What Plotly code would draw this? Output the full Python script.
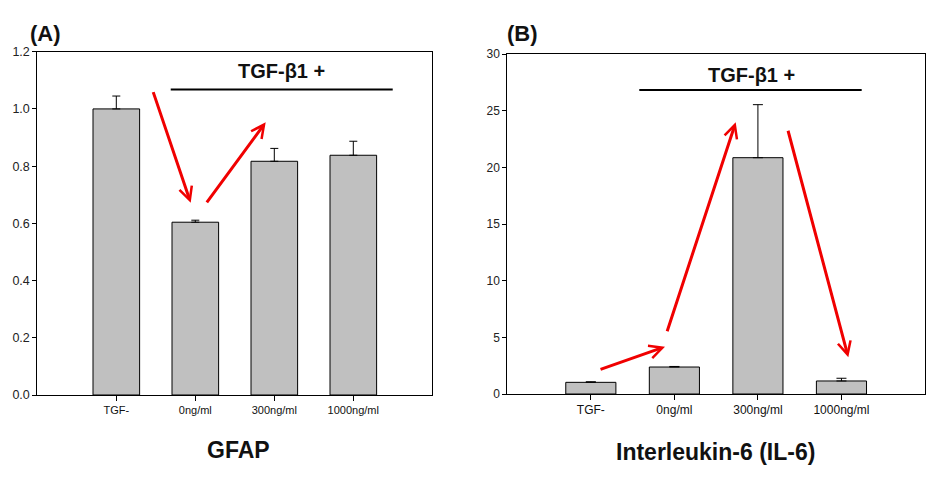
import plotly.graph_objects as go

categories = ["TGF-", "0ng/ml", "300ng/ml", "1000ng/ml"]
gfap_values = [1.0, 0.604, 0.817, 0.838]
gfap_errors = [0.045, 0.007, 0.045, 0.049]
il6_values = [1.03, 2.38, 20.85, 1.15]
il6_errors = [0.05, 0.05, 4.68, 0.24]
gfap_ticks = [0.0, 0.2, 0.4, 0.6, 0.8, 1.0, 1.2]
il6_ticks = [0, 5, 10, 15, 20, 25, 30]

xpos = list(range(len(categories)))
FONT = "Liberation Sans, Arial, sans-serif"
RED = "#f00000"
BAR_FILL = "#c0c0c0"

fig = go.Figure()
fig.add_trace(go.Bar(
    x=xpos, y=gfap_values, width=0.59,
    marker=dict(color=BAR_FILL, line=dict(color="black", width=1)),
    error_y=dict(type="data", symmetric=False, array=gfap_errors,
                 arrayminus=[0] * len(gfap_errors), color="black",
                 thickness=1, width=4),
    xaxis="x", yaxis="y", showlegend=False, hoverinfo="skip"))
fig.add_trace(go.Bar(
    x=xpos, y=il6_values, width=0.6,
    marker=dict(color=BAR_FILL, line=dict(color="black", width=1)),
    error_y=dict(type="data", symmetric=False, array=il6_errors,
                 arrayminus=[0] * len(il6_errors), color="black",
                 thickness=1, width=5),
    xaxis="x2", yaxis="y2", showlegend=False, hoverinfo="skip"))

axis_common = dict(showline=True, linecolor="black", linewidth=1, mirror=True,
                   ticks="outside", tickcolor="black", showgrid=False,
                   zeroline=False, automargin=False)

fig.update_layout(
    template="none",
    width=931, height=480,
    margin=dict(l=0, r=0, t=0, b=0, pad=0, autoexpand=False),
    paper_bgcolor="white", plot_bgcolor="white",
    font=dict(family=FONT, color="#111"),
    xaxis=dict(domain=[37.3 / 931, 432.3 / 931], range=[-1, 4], anchor="y",
               tickvals=xpos, ticktext=categories, ticklen=5,
               tickfont=dict(size=11, family=FONT, color="#111"),
               **axis_common),
    yaxis=dict(domain=[1 - 395 / 480, 1 - 51.7 / 480], range=[0, 1.2], anchor="x",
               tickvals=gfap_ticks, tickformat=".1f", ticklen=4,
               tickfont=dict(size=12.5, family=FONT, color="#222"),
               **axis_common),
    xaxis2=dict(domain=[507.3 / 931, 925 / 931], range=[-1, 4], anchor="y2",
                tickvals=xpos, ticktext=categories, ticklen=5,
                tickfont=dict(size=12, family=FONT, color="#111"),
                **axis_common),
    yaxis2=dict(domain=[1 - 394 / 480, 1 - 54 / 480], range=[0, 30], anchor="x2",
                tickvals=il6_ticks, ticklen=4,
                tickfont=dict(size=12, family=FONT, color="#222"),
                **axis_common),
)

# TGF-beta1 + bars
fig.add_shape(type="line", xref="x", yref="y", x0=0.689, x1=3.499, y0=1.0675, y1=1.0675,
              line=dict(color="black", width=2))
fig.add_shape(type="line", xref="x2", yref="y2", x0=0.580, x1=3.242, y0=26.82, y1=26.82,
              line=dict(color="black", width=2))

ann = []
ann.append(dict(xref="x", yref="y", x=2.097, y=1.133, text="<b>TGF-β1 +</b>",
                showarrow=False, font=dict(size=20, family=FONT, color="#111")))
ann.append(dict(xref="x2", yref="y2", x=1.929, y=28.15, text="<b>TGF-β1 +</b>",
                showarrow=False, font=dict(size=20, family=FONT, color="#111")))

# panel labels and titles
ann.append(dict(xref="paper", yref="paper", x=45 / 931, y=1 - 34 / 480, text="<b>(A)</b>",
                showarrow=False, font=dict(size=22, family=FONT, color="#111")))
ann.append(dict(xref="paper", yref="paper", x=522 / 931, y=1 - 34 / 480, text="<b>(B)</b>",
                showarrow=False, font=dict(size=22, family=FONT, color="#111")))
ann.append(dict(xref="paper", yref="paper", x=238 / 931, y=1 - 450 / 480, text="<b>GFAP</b>",
                showarrow=False, font=dict(size=23, family=FONT, color="#111")))
ann.append(dict(xref="paper", yref="paper", x=715 / 931, y=1 - 451.7 / 480,
                text="<b>Interleukin-6 (IL-6)</b>",
                showarrow=False, font=dict(size=23, family=FONT, color="#111")))
for a in ann:
    a["xanchor"] = "center"
    a["yanchor"] = "middle"

# red arrows (tail -> head)
arrows_a = [((0.461, 1.064), (0.942, 0.672)), ((1.132, 0.668), (1.891, 0.953))]
arrows_b = [((0.098, 2.12), (0.888, 4.17)), ((0.908, 5.41), (1.734, 23.97)),
            ((2.356, 23.36), (3.082, 3.24))]
for (tx, ty), (hx, hy) in arrows_a:
    ann.append(dict(xref="x", yref="y", axref="x", ayref="y", x=hx, y=hy, ax=tx, ay=ty,
                    text="", showarrow=True, arrowhead=5, arrowsize=0.85, arrowwidth=3,
                    arrowcolor=RED))
for (tx, ty), (hx, hy) in arrows_b:
    ann.append(dict(xref="x2", yref="y2", axref="x2", ayref="y2", x=hx, y=hy, ax=tx, ay=ty,
                    text="", showarrow=True, arrowhead=5, arrowsize=0.85, arrowwidth=3,
                    arrowcolor=RED))

fig.update_layout(annotations=ann)
fig.write_html("out.html", config={"displayModeBar": False, "staticPlot": True},
               post_script="document.body.style.margin='0';document.body.style.overflow='hidden';")
